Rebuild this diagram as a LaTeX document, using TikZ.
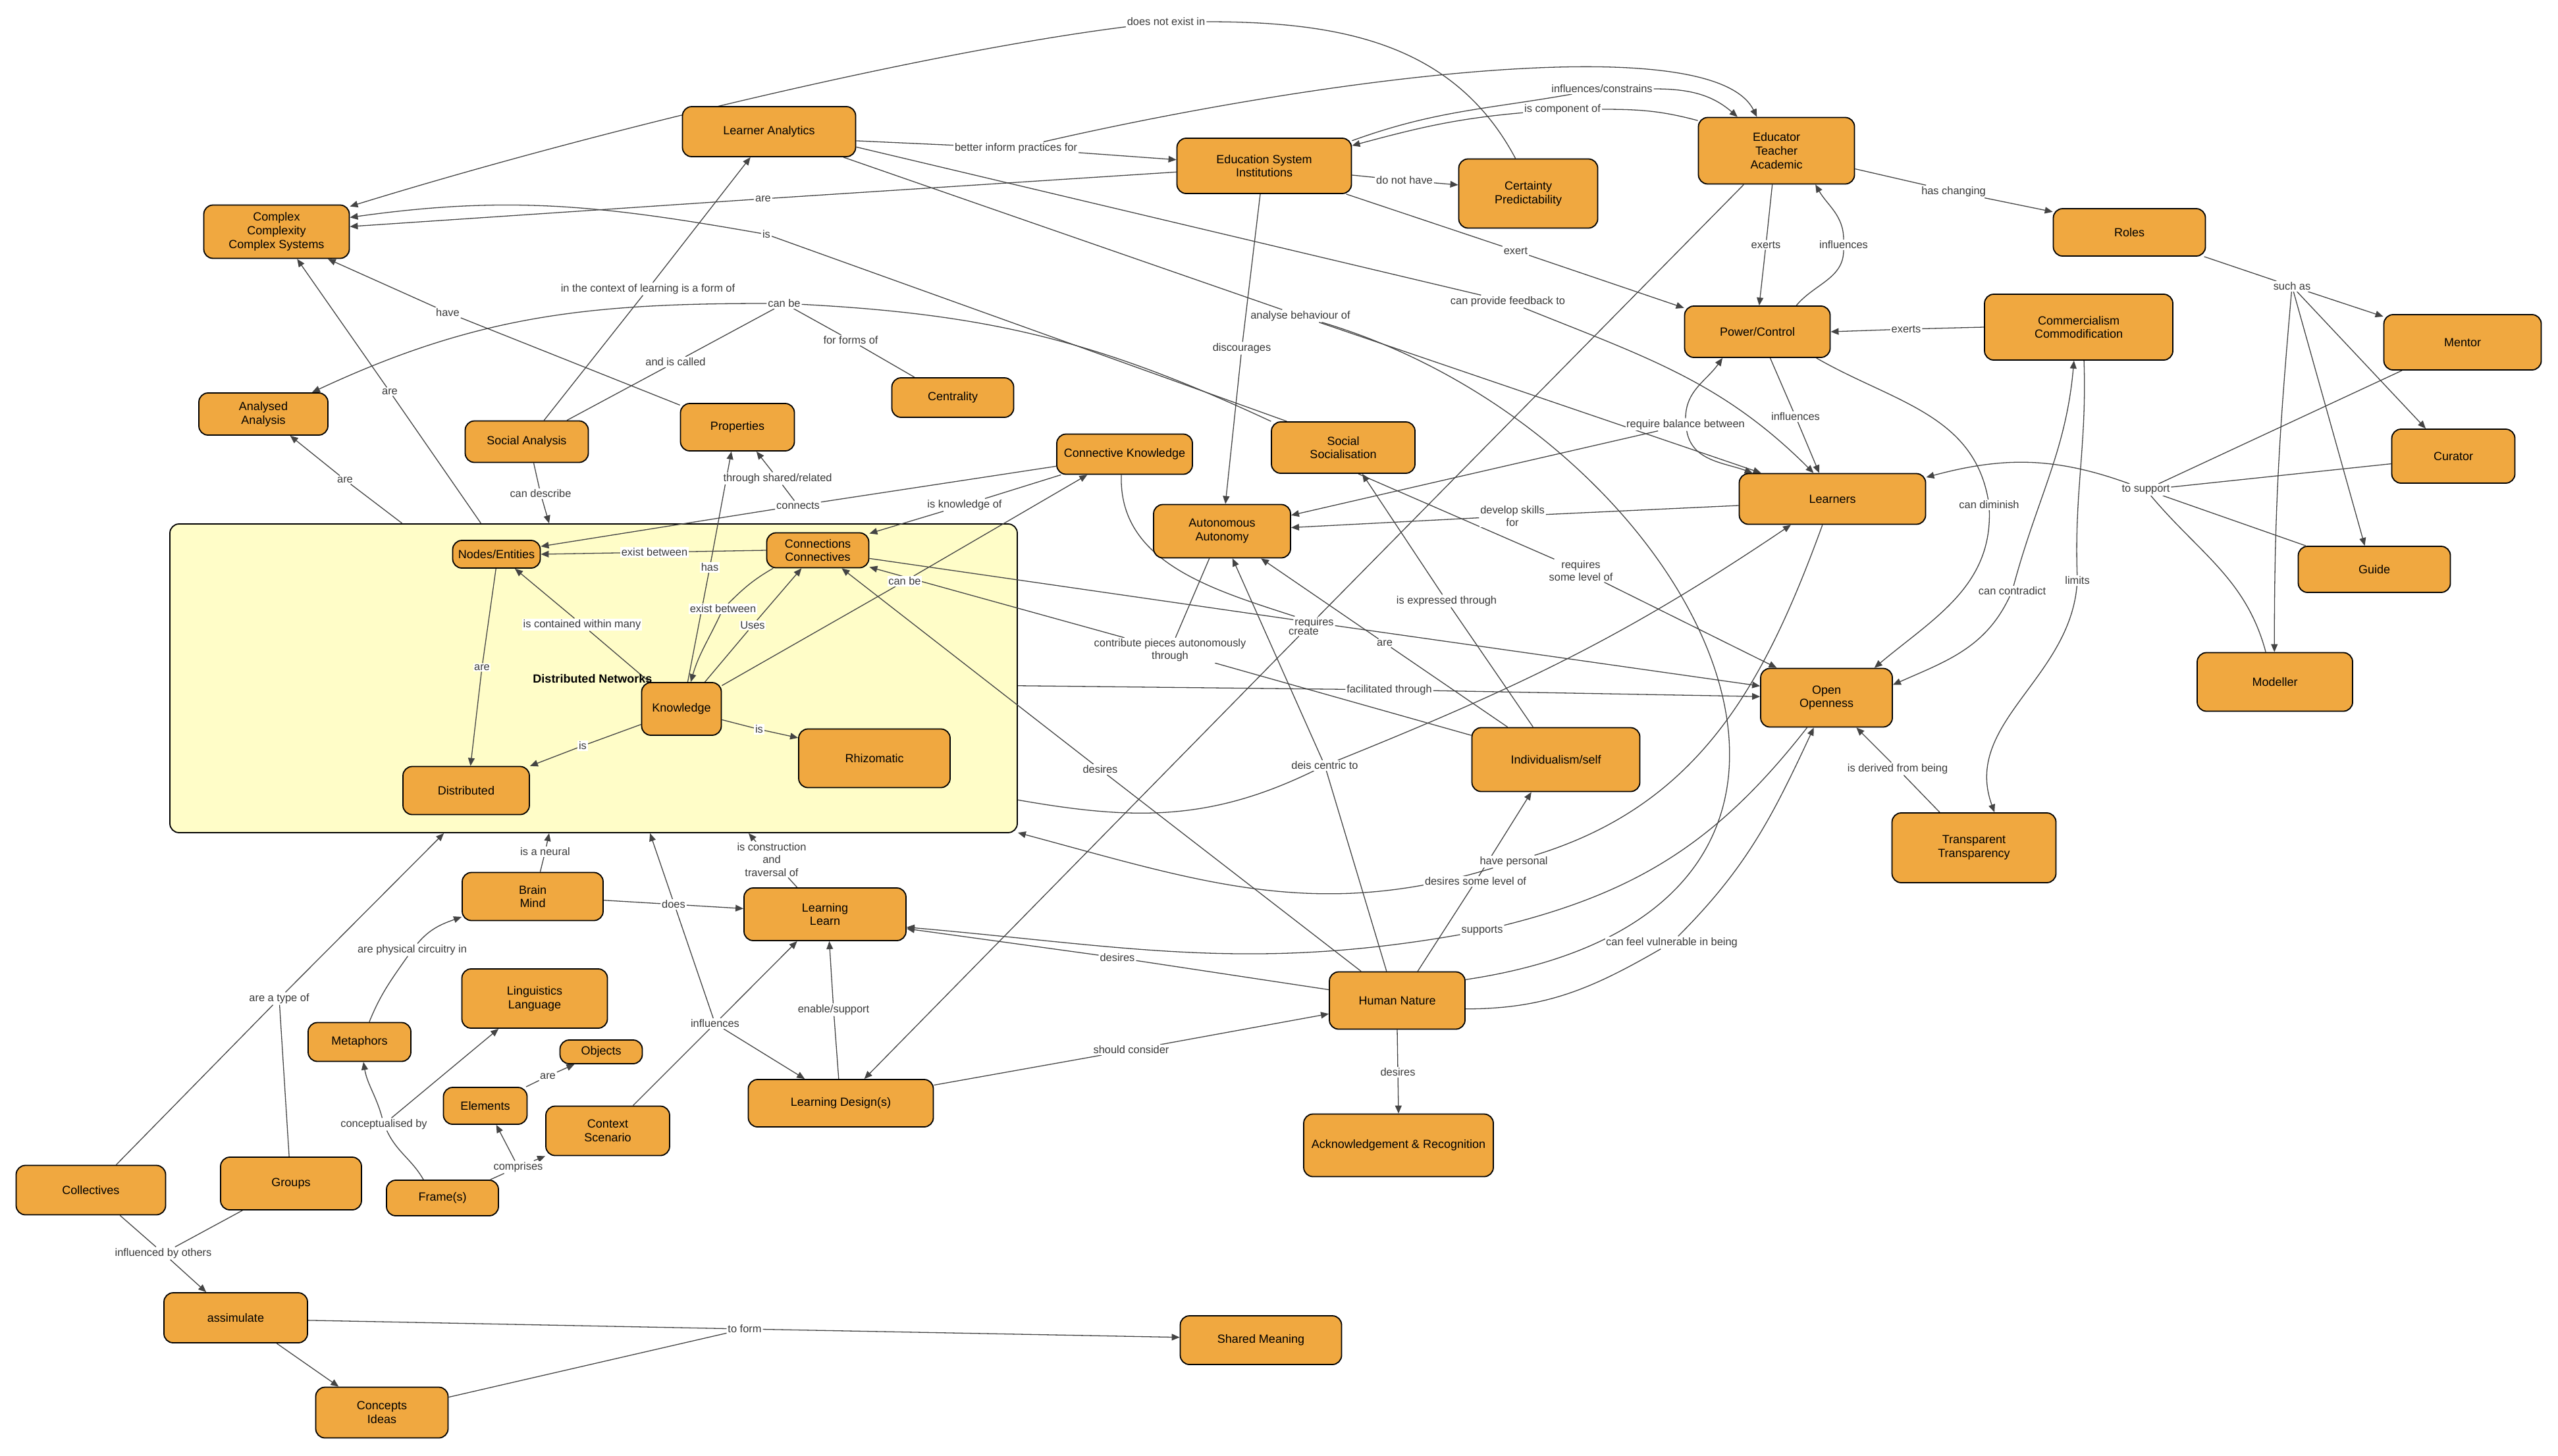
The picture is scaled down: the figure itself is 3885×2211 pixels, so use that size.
\documentclass[tikz,border=0pt]{standalone}
\usepackage{fontspec}
\setmainfont{Liberation Sans}
\usetikzlibrary{arrows.meta}
\definecolor{cfill}{HTML}{F0A840}
\definecolor{dnfill}{HTML}{FFFDC8}
\definecolor{egray}{HTML}{444444}
\definecolor{lgray}{HTML}{3A3A3A}
\pgfdeclarelayer{bg}\pgfdeclarelayer{front}\pgfsetlayers{bg,main,front}
\tikzset{
 concept/.style={draw=black, line width=0.9pt, fill=cfill, rounded corners=7pt, align=center, font=\fontsize{9}{10.4}\selectfont, inner sep=1pt},
 container/.style={draw=black, line width=0.9pt, fill=dnfill, rounded corners=7pt, inner sep=0pt},
 lbl/.style={fill=white, inner sep=0.8pt, text=lgray, font=\fontsize{8.2}{9.6}\selectfont, align=center},
 con/.style={draw=egray, line width=0.65pt},
 arr/.style={con, -{Triangle[length=6pt,width=5pt]}},
}
\newcommand\cpt[6]{\node[concept,minimum width=#4*0.5pt,minimum height=#5*0.5pt] (#1) at (#2,-#3) {#6};}
\newcommand\elab[4]{\node[lbl] (#1) at (#2,-#3) {#4};}
\begin{document}
\begin{tikzpicture}[x=0.5pt,y=0.5pt]
\useasboundingbox (0,0) rectangle (3885,-2211);
\begin{pgfonlayer}{bg}
\node[container, minimum width=643.5pt, minimum height=234.5pt] (dn) at (901.5,-1030.5) {};
\end{pgfonlayer}
\begin{pgfonlayer}{front}
\node[font=\bfseries\fontsize{9}{10}\selectfont] (dntitle) at (900,-1031) {Distributed Networks};
\cpt{cplx}{420}{352}{221}{81}{Complex\\Complexity\\Complex Systems}
\cpt{anal}{400}{629}{196}{64}{Analysed\\Analysis}
\cpt{sana}{800}{671}{187}{63}{Social Analysis}
\cpt{lana}{1168}{200}{263}{76}{Learner Analytics}
\cpt{edsys}{1920}{252}{265}{84}{Education System\\Institutions}
\cpt{cent}{1447}{604}{185}{60}{Centrality}
\cpt{prop}{1120}{649}{173}{72}{Properties}
\cpt{ck}{1708}{690}{206}{61}{Connective Knowledge}
\cpt{cert}{2321}{294}{211}{105}{Certainty\\Predictability}
\cpt{educ}{2698}{229}{237}{101}{Educator\\Teacher\\Academic}
\cpt{power}{2669}{504}{221}{78}{Power/Control}
\cpt{soc}{2040}{680}{218}{78}{Social\\Socialisation}
\cpt{learners}{2783}{758}{283}{77}{Learners}
\cpt{roles}{3234}{353}{231}{72}{Roles}
\cpt{comm}{3157}{497}{286}{100}{Commercialism\\Commodification}
\cpt{mentor}{3740}{520}{239}{84}{Mentor}
\cpt{curator}{3726}{693}{187}{82}{Curator}
\cpt{guide}{3606}{865}{231}{70}{Guide}
\cpt{modeller}{3455}{1036}{236}{89}{Modeller}
\cpt{transp}{2998}{1288}{249}{106}{Transparent\\Transparency}
\cpt{open}{2774}{1060}{200}{89}{Open\\Openness}
\cpt{indiv}{2363}{1154}{255}{97}{Individualism/self}
\cpt{auto}{1856}{807}{208}{81}{Autonomous\\Autonomy}
\cpt{nodes}{754}{842}{133}{42}{Nodes/Entities}
\cpt{conn}{1242}{836}{155}{53}{Connections\\Connectives}
\cpt{know}{1035}{1077}{121}{80}{Knowledge}
\cpt{rhiz}{1328}{1152}{230}{89}{Rhizomatic}
\cpt{distr}{708}{1201}{192}{73}{Distributed}
\cpt{brain}{809}{1362}{214}{73}{Brain\\Mind}
\cpt{learning}{1253}{1389}{246}{80}{Learning\\Learn}
\cpt{ld}{1277}{1676}{281}{72}{Learning Design(s)}
\cpt{human}{2122}{1520}{206}{87}{Human Nature}
\cpt{ack}{2124}{1740}{288}{95}{Acknowledgement \& Recognition}
\cpt{shared}{1915}{2036}{245}{74}{Shared Meaning}
\cpt{collect}{138}{1808}{227}{75}{Collectives}
\cpt{groups}{442}{1798}{214}{80}{Groups}
\cpt{meta}{546}{1583}{156}{59}{Metaphors}
\cpt{ling}{812}{1517}{221}{90}{Linguistics\\Language}
\cpt{objects}{913}{1598}{125}{36}{Objects}
\cpt{elements}{737}{1680}{127}{56}{Elements}
\cpt{context}{923}{1718}{188}{75}{Context\\Scenario}
\cpt{frames}{672}{1820}{170}{54}{Frame(s)}
\cpt{assim}{358}{2002}{218}{76}{assimulate}
\cpt{concepts}{580}{2146}{201}{77}{Concepts\\Ideas}
% labels
\elab{L1}{1771}{33}{does not exist in}
\elab{L2}{1543}{225}{better inform practices for}
\elab{L3}{1159}{302}{are}
\elab{L4}{1164}{356}{is}
\elab{L5}{984}{439}{in the context of learning is a form of}
\elab{L6}{1191}{461}{can be}
\elab{L7}{1026}{550}{and is called}
\elab{L8}{1292}{517}{for forms of}
\elab{L9}{680}{475}{have}
\elab{L10}{592}{595}{are}
\elab{L11}{524}{729}{are}
\elab{L12}{821}{750}{can describe}
\elab{L13}{1181}{727}{through shared/related}
\elab{L14}{1212}{768}{connects}
\elab{L15}{1465}{767}{is knowledge of}
\elab{L16}{1886}{529}{discourages}
\elab{L17}{1975}{480}{analyse behaviour of}
\elab{L18}{2433}{135}{influences/constrains}
\elab{L19}{2373}{166}{is component of}
\elab{L20}{2133}{274}{do not have}
\elab{L21}{2302}{381}{exert}
\elab{L22}{2290}{458}{can provide feedback to}
\elab{L23}{2682}{372}{exerts}
\elab{L24}{2800}{372}{influences}
\elab{L25}{2727}{633}{influences}
\elab{L26}{2560}{645}{require balance between}
\elab{L27}{2967}{291}{has changing}
\elab{L28}{3481}{435}{such as}
\elab{L29}{2895}{500}{exerts}
\elab{L30}{3259}{744}{to support}
\elab{L31}{3021}{767}{can diminish}
\elab{L32}{3056}{898}{can contradict}
\elab{L33}{3155}{882}{limits}
\elab{L34}{2882}{1168}{is derived from being}
\elab{L35}{2297}{784}{develop skills\\for}
\elab{L36}{2401}{867}{requires\\some level of}
\elab{L37}{2197}{913}{is expressed through}
\elab{L38}{1996}{946}{requires}
\elab{L39}{1980}{959}{create}
\elab{L40}{2103}{977}{are}
\elab{L41}{2110}{1048}{facilitated through}
\elab{L42}{2012}{1163}{deis centric to}
\elab{L43}{2299}{1309}{have personal}
\elab{L44}{2241}{1339}{desires some level of}
\elab{L45}{2251}{1414}{supports}
\elab{L46}{2539}{1432}{can feel vulnerable in being}
\elab{L47}{1777}{988}{contribute pieces autonomously\\through}
\elab{L48}{1671}{1169}{desires}
\elab{L49}{1697}{1455}{desires}
\elab{L50}{994}{839}{exist between}
\elab{L51}{1078}{862}{has}
\elab{L52}{1374}{883}{can be}
\elab{L53}{1098}{925}{exist between}
\elab{L54}{1143}{950}{Uses}
\elab{L55}{884}{949}{is contained within many}
\elab{L56}{732}{1014}{are}
\elab{L57}{885}{1133}{is}
\elab{L58}{1153}{1108}{is}
\elab{L59}{828}{1294}{is a neural}
\elab{L60}{1172}{1306}{is construction\\and\\traversal of}
\elab{L61}{1023}{1374}{does}
\elab{L62}{626}{1443}{are physical circuitry in}
\elab{L63}{1086}{1555}{influences}
\elab{L64}{1266}{1534}{enable/support}
\elab{L65}{1718}{1595}{should consider}
\elab{L66}{2123}{1629}{desires}
\elab{L67}{424}{1517}{are a type of}
\elab{L68}{583}{1708}{conceptualised by}
\elab{L69}{832}{1635}{are}
\elab{L70}{787}{1773}{comprises}
\elab{L71}{248}{1904}{influenced by others}
\elab{L72}{1131}{2019}{to form}
\end{pgfonlayer}
% ---------- connectors ----------
\draw[arr] (cert.110) to[out=118,in=0] (L1) .. controls (1400,-80) and (900,-200) .. (cplx.19);
\draw[arr] (lana.-6) -- (L2) -- (edsys.176);
\draw[arr] (L2) .. controls (2000,-120) and (2600,-40) .. (educ.120);
\draw[arr] (edsys.184) -- (L3) -- (cplx.4);
\draw[arr] (soc.155) -- (L4) to[out=170,in=8] (cplx.11);
\draw[arr] (sana.51) -- (L5) -- (lana.234);
\draw[con] (sana.28) -- (L7) -- (L6);
\draw[arr] (L6) to[out=180,in=25] (anal.24);
\draw[con] (L6) to[out=-3,in=155] (soc.160);
\draw[con] (L6) -- (L8) -- (cent.152);
\draw[arr] (prop.159) -- (L9) -- (cplx.-28);
\draw[arr] (dn.126) -- (L10) -- (cplx.-53);
\draw[arr] (dn.141) -- (L11) -- (anal.-39);
\draw[arr] (sana.-72) -- (L12) -- (dn.106);
\draw[arr] (ck.190) -- (L14) -- (nodes.10);
\draw[arr] (L14) -- (L13) -- (prop.-52);
\draw[arr] (know.77) -- (L51) -- (prop.-104);
\draw[arr] (conn.180) -- (L50) -- (nodes.0);
\draw[arr] (conn.202) to[out=210,in=45] (L53) to[out=245,in=74] (know.71);
\draw[arr] (know.49) -- (L54) -- (conn.228);
\draw[arr] (know.30) -- (L52) -- (ck.209);
\draw[arr] (ck.198) -- (L15) -- (conn.18);
\draw[arr] (know.140) -- (L55) -- (nodes.-38);
\draw[arr] (nodes.-92) -- (L56) -- (distr.80);
\draw[arr] (know.201) -- (L57) -- (distr.21);
\draw[arr] (know.-15) -- (L58) -- (rhiz.165);
\draw[arr] (conn.-9) -- (L38) -- (open.170);
\draw[con] (ck.-99) to[out=-92,in=162] (L38);
\draw[arr] (edsys.-98) -- (L16) -- (auto.83);
\draw[con] (lana.-19) -- (L17);
\draw[arr] (L17) -- (learners.160);
\draw[con] (L17) .. controls (2580,-660) and (2950,-1380) .. (human.17);
\draw[arr] (lana.-10) -- (L22) to[out=-22,in=135] (learners.126);
\draw[arr] (edsys.16) to[out=20,in=190] (L18) to[out=0,in=139] (educ.139);
\draw[arr] (educ.159) to[out=165,in=0] (L19) to[out=185,in=15] (edsys.13);
\draw[arr] (edsys.-6) -- (L20) -- (cert.173);
\draw[arr] (edsys.-19) -- (L21) -- (power.162);
\draw[arr] (educ.-97) -- (L23) -- (power.86);
\draw[arr] (power.34) to[out=50,in=-90] (L24) to[out=90,in=-60] (educ.-41);
\draw[arr] (power.-64) -- (L25) -- (learners.117);
\draw[arr] (L26) to[out=90,in=235] (power.217);
\draw[arr] (L26) to[out=-80,in=160] (learners.162);
\draw[arr] (L26) -- (auto.13);
\draw[arr] (educ.-13) -- (L27) -- (roles.165);
\draw[arr] (educ.-134) -- (L39) -- (ld.46);
\draw[arr] (comm.180) -- (L29) -- (power.0);
\draw[con] (roles.-18) -- (L28);
\draw[arr] (L28) -- (mentor.162);
\draw[arr] (L28) -- (curator.135);
\draw[arr] (L28) -- (guide.112);
\draw[arr] (L28) to[out=-95,in=90] (modeller.91);
\draw[con] (mentor.205) -- (L30);
\draw[con] (curator.187) -- (L30);
\draw[con] (guide.161) -- (L30);
\draw[con] (modeller.107) to[out=105,in=-50] (L30);
\draw[arr] (L30) to[out=160,in=15] (learners.13);
\draw[arr] (power.-24) to[out=-30,in=100] (L31) to[out=-88,in=40] (open.32);
\draw[arr] (L32) to[out=75,in=-95] (comm.-98);
\draw[arr] (L32) to[out=-115,in=24] (open.11);
\draw[arr] (comm.-81) to[out=-88,in=92] (L33) to[out=-95,in=110] (transp.60);
\draw[arr] (transp.134) -- (L34) -- (open.-45);
\draw[arr] (learners.184) -- (L35) -- (auto.3);
\draw[arr] (soc.-60) -- (L36) -- (open.149);
\draw[arr] (indiv.125) -- (L37) -- (soc.-54);
\draw[arr] (indiv.146) -- (L40) -- (auto.-35);
\draw[arr] (dn.-1) -- (L41) -- (open.179);
\draw[arr] (dn.-16) to[out=-10,in=206] (L42) to[out=22,in=214] (learners.212);
\draw[arr] (learners.249) to[out=250,in=17] (L43) to[out=197,in=-15] (dn.-20);
\draw[arr] (human.55) -- (L44) -- (indiv.233);
\draw[arr] (open.237) to[out=232,in=14] (L45) to[out=190,in=-5] (learning.-9);
\draw[arr] (human.171) -- (L49) -- (learning.-10);
\draw[arr] (human.-7) to[out=0,in=210] (L46) to[out=45,in=245] (open.247);
\draw[arr] (human.141) -- (L48) -- (conn.-37);
\draw[arr] (human.110) -- (L42) -- (auto.-69);
\draw[arr] (indiv.164) -- (L47) -- (conn.-18);
\draw[con] (auto.-115) -- (L47);
\draw[arr] (brain.73) -- (L59) -- (dn.-106);
\draw[arr] (meta.64) to[out=68,in=235] (L62) to[out=50,in=200] (brain.196);
\draw[arr] (brain.-3) -- (L61) -- (learning.176);
\draw[arr] (learning.136) -- (L60) -- (dn.-45);
\draw[con] (context.45) -- (L63);
\draw[arr] (L63) -- (dn.-70);
\draw[arr] (L63) -- (learning.224);
\draw[arr] (L63) -- (ld.146);
\draw[arr] (ld.95) -- (L64) -- (learning.-81);
\draw[arr] (ld.11) -- (L65) -- (human.191);
\draw[arr] (human.-90) -- (L66) -- (ack.90);
\draw[con] (collect.45) -- (L67);
\draw[con] (groups.94) -- (L67);
\draw[arr] (L67) -- (dn.-134);
\draw[con] (frames.136) to[out=120,in=-65] (L68);
\draw[arr] (L68) to[out=105,in=-80] (meta.-79);
\draw[arr] (L68) -- (ling.220);
\draw[arr] (elements.25) -- (L69) -- (objects.205);
\draw[con] (frames.21) -- (L70);
\draw[arr] (L70) -- (elements.-60);
\draw[arr] (L70) -- (context.202);
\draw[con] (collect.-41) -- (L71);
\draw[con] (groups.209) -- (L71);
\draw[arr] (L71) -- (assim.139);
\draw[arr] (assim.-2) -- (L72) -- (shared.178);
\draw[con] (concepts.13) -- (L72);
\draw[arr] (assim.-32) -- (concepts.149);
\end{tikzpicture}
\end{document}
